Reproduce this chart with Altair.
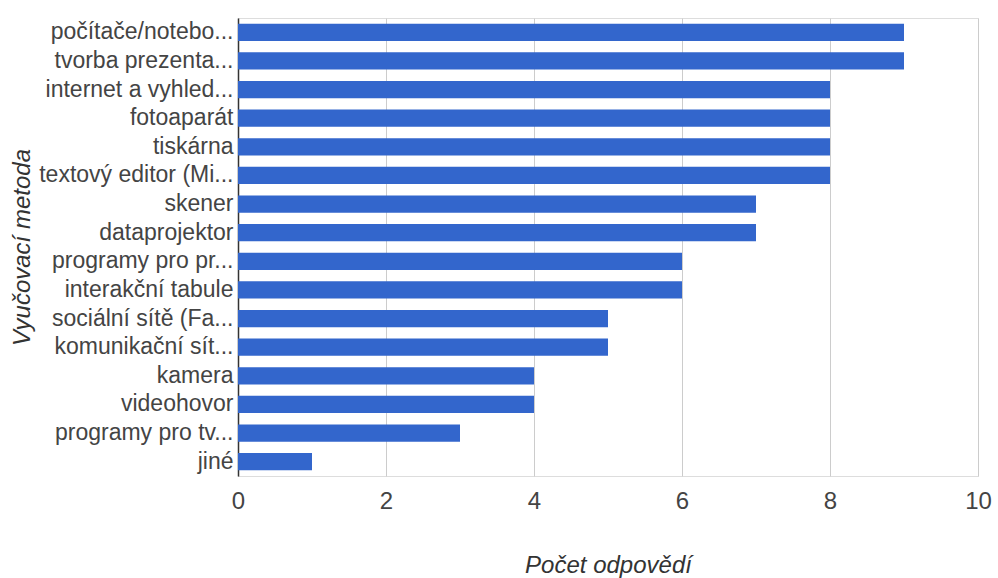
import altair as alt
import pandas as pd

categories = [
    "počítače/notebo...", "tvorba prezenta...", "internet a vyhled...", "fotoaparát",
    "tiskárna", "textový editor (Mi...", "skener", "dataprojektor",
    "programy pro pr...", "interakční tabule", "sociální sítě (Fa...", "komunikační sít...",
    "kamera", "videohovor", "programy pro tv...", "jiné",
]
values = [9, 9, 8, 8, 8, 8, 7, 7, 6, 6, 5, 5, 4, 4, 3, 1]

df = pd.DataFrame({"metoda": categories, "pocet": values})

font = "Liberation Sans"

chart = alt.Chart(df).mark_bar(color="#3366cc").encode(
    x=alt.X("pocet:Q", scale=alt.Scale(domain=[0, 10], nice=False),
            axis=alt.Axis(values=[0, 2, 4, 6, 8, 10], title="Počet odpovědí",
                          grid=True, gridColor="#cccccc", domain=False, ticks=False,
                          labelFontSize=24, labelColor="#444444", labelFont=font,
                          labelPadding=13, labelFlush=False,
                          titleFont=font, titleFontSize=24, titleFontStyle="italic",
                          titleFontWeight="normal", titleColor="#333333",
                          titleX=370, titleY=89, titleBaseline="middle", titleAnchor="middle")),
    y=alt.Y("metoda:N", sort=categories,
            scale=alt.Scale(paddingInner=0.4, paddingOuter=0.2),
            axis=alt.Axis(title="Vyučovací metoda", ticks=False, domain=True,
                          domainColor="#333333", domainWidth=1.5,
                          labelFontSize=23, labelColor="#444444", labelFont=font,
                          labelPadding=5, labelLimit=300,
                          titleFont=font, titleFontSize=24, titleFontStyle="italic",
                          titleFontWeight="normal", titleColor="#333333",
                          titleX=-216, titleY=229, titleAngle=270,
                          titleBaseline="middle", titleAnchor="middle")),
).properties(
    width=740, height=458,
    autosize=alt.AutoSizeParams(type="none"),
    padding={"left": 238, "top": 18, "right": 20, "bottom": 102},
).configure_view(stroke=None).configure(background="white")

chart.save("out.html", embed_options={"renderer": "svg", "actions": False})
